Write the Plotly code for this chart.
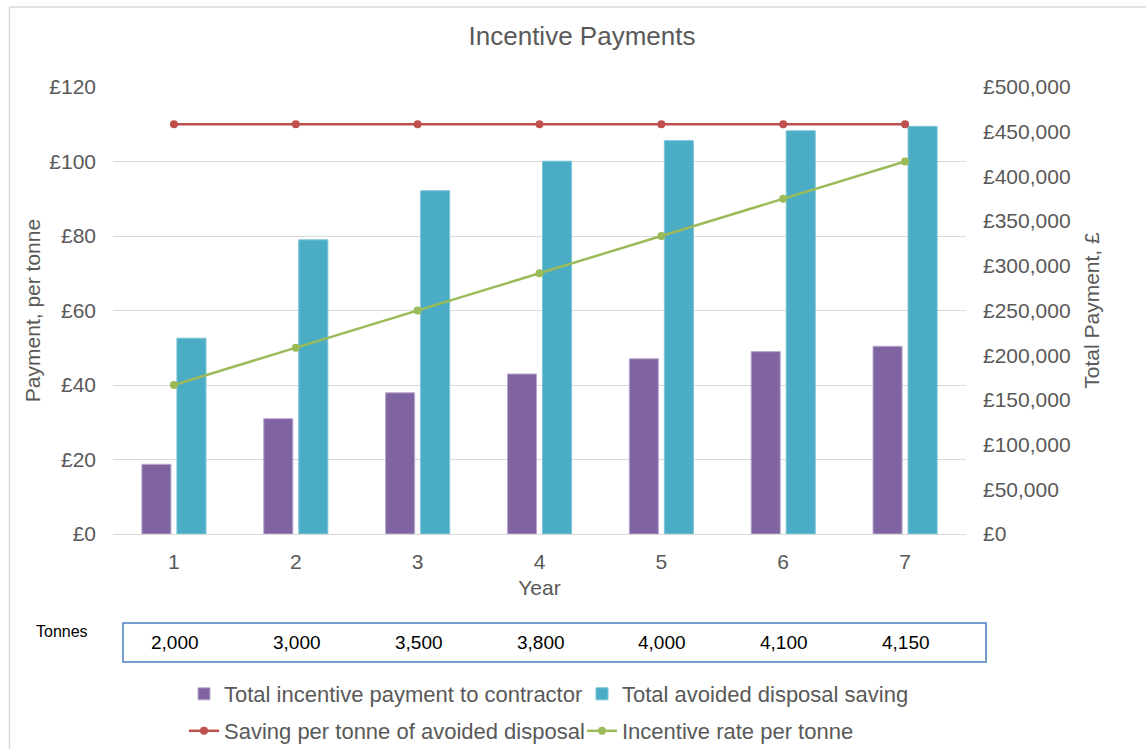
import plotly.graph_objects as go

years = ["1", "2", "3", "4", "5", "6", "7"]
tonnes_labels = ["2,000", "3,000", "3,500", "3,800", "4,000", "4,100", "4,150"]
total_incentive = [78000, 129000, 158000, 179000, 196000, 204000, 210000]
total_avoided = [219000, 329000, 384000, 417000, 440000, 451000, 456000]
saving_per_tonne = [110, 110, 110, 110, 110, 110, 110]
incentive_rate = [40, 50, 60, 70, 80, 90, 100]

GREY = "#595959"
FONT = "Liberation Sans, Arial, sans-serif"

W, H = 1146, 749
L, R, T, B = 113, 966, 87, 534
pw, ph = R - L, B - T


def px(x):
    return (x - L) / pw


def py(y):
    return (B - y) / ph


fig = go.Figure()
fig.add_trace(go.Bar(x=years, y=total_incentive, name="Total incentive payment to contractor",
                     marker=dict(color="#8064A2", line=dict(color="#B9A8CF", width=1)),
                     yaxis="y", legend="legend"))
fig.add_trace(go.Bar(x=years, y=total_avoided, name="Total avoided disposal saving",
                     marker=dict(color="#4BACC6", line=dict(color="#7CC4D8", width=1)),
                     yaxis="y", legend="legend"))
fig.add_trace(go.Scatter(x=years, y=saving_per_tonne, name="Saving per tonne of avoided disposal",
                         mode="lines+markers", line=dict(color="#C0504D", width=2.5),
                         marker=dict(size=8, color="#C0504D"), yaxis="y2", legend="legend2"))
fig.add_trace(go.Scatter(x=years, y=incentive_rate, name="Incentive rate per tonne",
                         mode="lines+markers", line=dict(color="#9BBB59", width=2.5),
                         marker=dict(size=8, color="#9BBB59"), yaxis="y2", legend="legend2"))

shapes = [
    dict(type="line", xref="paper", yref="paper", x0=px(9.5), x1=px(9.5), y0=py(7), y1=py(760),
         line=dict(color="#D9D9D9", width=1.5)),
    dict(type="line", xref="paper", yref="paper", x0=px(9.5), x1=px(1150), y0=py(7), y1=py(7),
         line=dict(color="#D9D9D9", width=1.5)),
    dict(type="rect", xref="paper", yref="paper", x0=px(123), x1=px(986), y0=py(662), y1=py(623),
         line=dict(color="#4A7EC4", width=1.5), fillcolor="rgba(0,0,0,0)"),
]

annotations = [
    dict(text="Tonnes", xref="paper", yref="paper", x=px(62), y=py(631), showarrow=False,
         xanchor="center", yanchor="middle", font=dict(size=16, color="black", family=FONT)),
]
for i, lab in enumerate(tonnes_labels):
    annotations.append(dict(text=lab, xref="x", yref="paper", x=i, y=py(642), showarrow=False,
                            xanchor="center", yanchor="middle", xshift=1,
                            font=dict(size=19, color="black", family=FONT)))

fig.update_layout(
    width=W, height=H,
    margin=dict(l=L, r=W - R, t=T, b=H - B),
    paper_bgcolor="white", plot_bgcolor="white",
    font=dict(family=FONT, color=GREY, size=21),
    title=dict(text="Incentive Payments", x=582 / W, xanchor="center", y=1 - 36 / H,
               yanchor="middle", xref="container", yref="container",
               font=dict(size=26, color=GREY, family=FONT)),
    barmode="group", bargap=0.425, bargroupgap=0.17,
    xaxis=dict(type="category", range=[-0.5, 6.5],
               title=dict(text="Year", standoff=8, font=dict(size=21, color=GREY)),
               tickfont=dict(size=21, color=GREY), showgrid=False, showline=False, ticks="",
               zeroline=False, ticklabelstandoff=13),
    yaxis=dict(side="right", range=[0, 500000], dtick=50000, tickprefix="£", tickformat=",d",
               showgrid=False, zeroline=False, showline=False, ticks="",
               tickfont=dict(size=21, color=GREY), ticklabelstandoff=16,
               title=dict(text="Total Payment, £", font=dict(size=21, color=GREY), standoff=14)),
    yaxis2=dict(side="left", overlaying="y", range=[0, 120], dtick=20, tickprefix="£",
                showgrid=True, gridcolor="#D9D9D9", gridwidth=1, zeroline=True,
                zerolinecolor="#D9D9D9", zerolinewidth=1, showline=False, ticks="",
                tickfont=dict(size=21, color=GREY), ticklabelstandoff=16,
                title=dict(text="Payment, per tonne", font=dict(size=21, color=GREY), standoff=2)),
    legend=dict(orientation="h", xref="container", yref="container", x=184 / W, xanchor="left",
                y=1 - 694 / H, yanchor="middle",
                font=dict(size=22, color=GREY), bgcolor="rgba(0,0,0,0)", itemwidth=30,
                traceorder="normal", entrywidth=353, entrywidthmode="pixels"),
    legend2=dict(orientation="h", xref="container", yref="container", x=184 / W, xanchor="left",
                 y=1 - 731 / H, yanchor="middle",
                 font=dict(size=22, color=GREY), bgcolor="rgba(0,0,0,0)", itemwidth=30,
                 traceorder="normal", entrywidth=353, entrywidthmode="pixels"),
    shapes=shapes,
    annotations=annotations,
)

fig.write_html("out.html")
